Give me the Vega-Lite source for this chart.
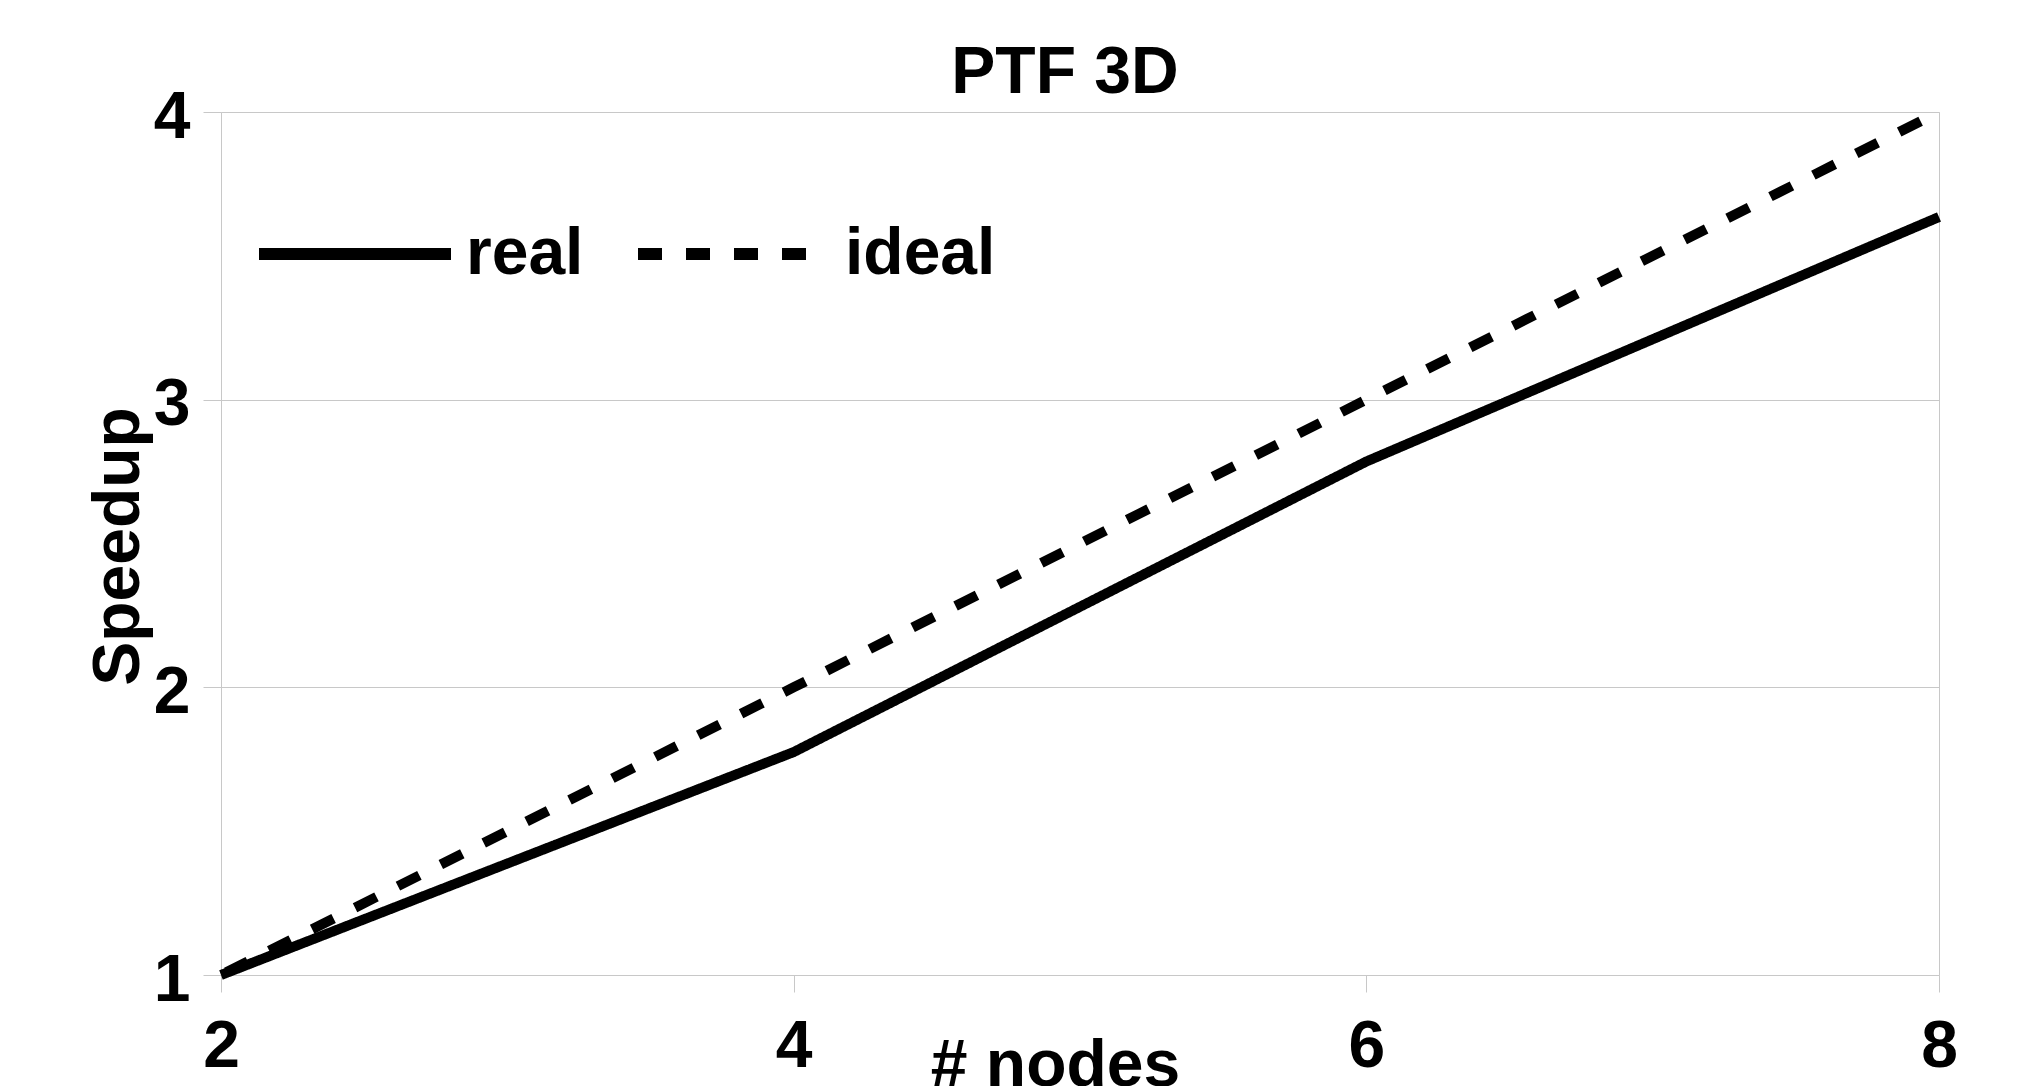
{
  "$schema": "https://vega.github.io/schema/vega-lite/v6.json",
  "width": 1718,
  "height": 863,
  "autosize": {"type": "none"},
  "padding": {"left": 221, "top": 112, "right": 93, "bottom": 111},
  "background": "white",
  "config": {
    "view": {"stroke": "#c8c8c8", "strokeWidth": 1},
    "font": "Liberation Sans"
  },
  "title": {
    "text": "PTF 3D",
    "font": "Liberation Sans",
    "fontSize": 66,
    "fontWeight": "bold",
    "color": "black",
    "anchor": "middle",
    "frame": "group",
    "baseline": "alphabetic",
    "offset": 19,
    "dx": -15,
    "dy": 94
  },
  "data": {
    "values": [
      {"nodes": 2, "speedup": 1.0, "series": "real"},
      {"nodes": 4, "speedup": 1.775, "series": "real"},
      {"nodes": 6, "speedup": 2.785, "series": "real"},
      {"nodes": 8, "speedup": 3.635, "series": "real"},
      {"nodes": 2, "speedup": 1.0, "series": "ideal"},
      {"nodes": 4, "speedup": 2.0, "series": "ideal"},
      {"nodes": 6, "speedup": 3.0, "series": "ideal"},
      {"nodes": 8, "speedup": 4.0, "series": "ideal"}
    ]
  },
  "mark": {"type": "line", "color": "black", "strokeWidth": 10, "strokeCap": "butt", "strokeJoin": "miter", "strokeDashOffset": -6, "clip": false},
  "encoding": {
    "x": {
      "field": "nodes",
      "type": "quantitative",
      "scale": {"domain": [2, 8], "nice": false, "zero": false},
      "axis": {
        "values": [2, 4, 6, 8],
        "title": "# nodes",
        "grid": false,
        "domain": false,
        "tickSize": 17,
        "tickColor": "#c8c8c8",
        "tickWidth": 1,
        "labelPadding": 22,
        "labelFont": "Liberation Sans",
        "labelFontSize": 66,
        "labelFontWeight": "bold",
        "labelColor": "black",
        "labelFlush": false,
        "labelOverlap": false,
        "titleFont": "Liberation Sans",
        "titleFontSize": 66,
        "titleFontWeight": "bold",
        "titleColor": "black",
        "titleX": 834,
        "titleY": 110,
        "titleBaseline": "alphabetic",
        "titleAlign": "center"
      }
    },
    "y": {
      "field": "speedup",
      "type": "quantitative",
      "scale": {"domain": [1, 4], "nice": false, "zero": false},
      "axis": {
        "values": [1, 2, 3, 4],
        "title": "Speedup",
        "grid": true,
        "gridColor": "#c8c8c8",
        "gridWidth": 1,
        "domain": false,
        "tickSize": 18,
        "tickColor": "#c8c8c8",
        "tickWidth": 1,
        "labelPadding": 13,
        "labelOffset": 5,
        "labelFont": "Liberation Sans",
        "labelFontSize": 66,
        "labelFontWeight": "bold",
        "labelColor": "black",
        "labelFlush": false,
        "labelOverlap": false,
        "titleFont": "Liberation Sans",
        "titleFontSize": 66,
        "titleFontWeight": "bold",
        "titleColor": "black",
        "titleX": -83,
        "titleY": 434,
        "titleAngle": 270,
        "titleBaseline": "alphabetic",
        "titleAlign": "center"
      }
    },
    "strokeDash": {
      "field": "series",
      "type": "nominal",
      "scale": {"domain": ["real", "ideal"], "range": [[1, 0], [24, 24]]},
      "legend": {
        "title": null,
        "orient": "none",
        "legendX": 32,
        "legendY": 40,
        "direction": "horizontal",
        "symbolType": "stroke",
        "symbolSize": 36864,
        "symbolStrokeWidth": 12,
        "symbolStrokeColor": "black",
        "labelFont": "Liberation Sans",
        "labelFontSize": 66,
        "labelFontWeight": "bold",
        "labelColor": "black",
        "labelOffset": 9,
        "columnPadding": 30,
        "padding": 0
      }
    }
  }
}
